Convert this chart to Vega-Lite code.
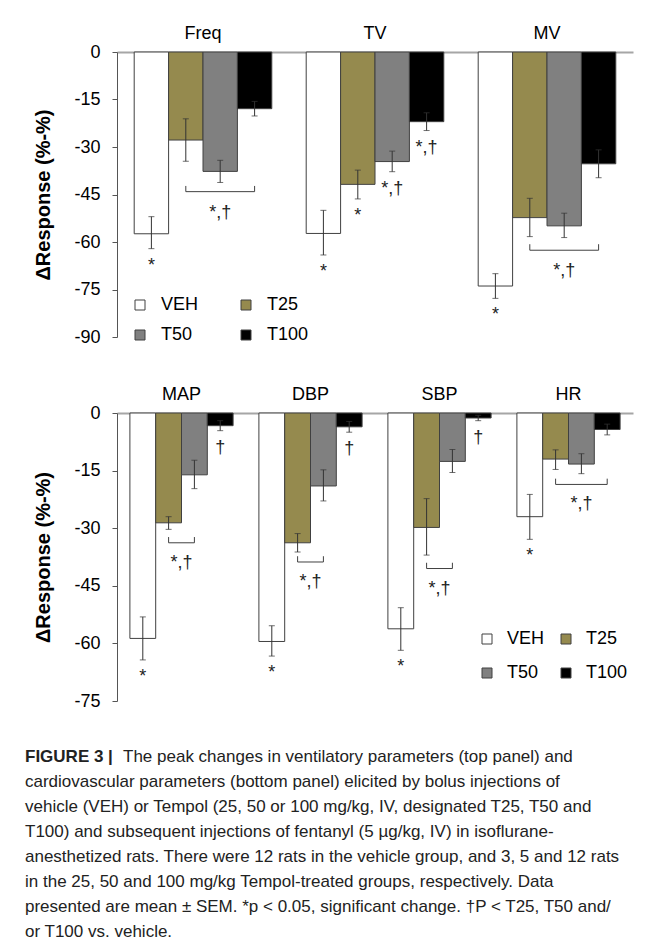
{
  "$schema": "https://vega.github.io/schema/vega-lite/v6.json",
  "background": "white",
  "padding": {"left": 25, "top": 24, "right": 5, "bottom": 5},
  "config": {
    "font": "Liberation Sans",
    "view": {"stroke": null},
    "axis": {"labelFont": "Liberation Sans", "titleFont": "Liberation Sans"},
    "legend": {"labelFont": "Liberation Sans"},
    "text": {"font": "Liberation Sans"}
  },
  "datasets": {
    "vent": [
      {"param": "Freq", "grp": "VEH", "v": -57.4, "lo": -62.1, "hi": -52.0, "sig": "*"},
      {"param": "Freq", "grp": "T25", "v": -27.8, "lo": -34.5, "hi": -21.1, "sig": ""},
      {"param": "Freq", "grp": "T50", "v": -37.7, "lo": -41.2, "hi": -34.2, "sig": ""},
      {"param": "Freq", "grp": "T100", "v": -17.9, "lo": -20.2, "hi": -15.6, "sig": ""},
      {"param": "TV", "grp": "VEH", "v": -57.3, "lo": -64.1, "hi": -50.0, "sig": "*"},
      {"param": "TV", "grp": "T25", "v": -41.8, "lo": -46.4, "hi": -37.3, "sig": "*"},
      {"param": "TV", "grp": "T50", "v": -34.6, "lo": -37.8, "hi": -31.3, "sig": "*,†"},
      {"param": "TV", "grp": "T100", "v": -22.0, "lo": -24.8, "hi": -19.2, "sig": "*,†"},
      {"param": "MV", "grp": "VEH", "v": -73.9, "lo": -77.8, "hi": -70.0, "sig": "*"},
      {"param": "MV", "grp": "T25", "v": -52.3, "lo": -58.3, "hi": -46.2, "sig": ""},
      {"param": "MV", "grp": "T50", "v": -54.9, "lo": -58.6, "hi": -50.9, "sig": ""},
      {"param": "MV", "grp": "T100", "v": -35.3, "lo": -39.7, "hi": -30.9, "sig": ""}
    ],
    "cardio": [
      {"param": "MAP", "grp": "VEH", "v": -58.7, "lo": -64.3, "hi": -53.1, "sig": "*"},
      {"param": "MAP", "grp": "T25", "v": -28.6, "lo": -30.3, "hi": -27.0, "sig": ""},
      {"param": "MAP", "grp": "T50", "v": -16.1, "lo": -19.7, "hi": -12.3, "sig": ""},
      {"param": "MAP", "grp": "T100", "v": -3.3, "lo": -4.6, "hi": -2.0, "sig": "†"},
      {"param": "DBP", "grp": "VEH", "v": -59.5, "lo": -63.3, "hi": -55.4, "sig": "*"},
      {"param": "DBP", "grp": "T25", "v": -33.8, "lo": -36.2, "hi": -31.4, "sig": ""},
      {"param": "DBP", "grp": "T50", "v": -19.0, "lo": -22.9, "hi": -14.8, "sig": ""},
      {"param": "DBP", "grp": "T100", "v": -3.6, "lo": -5.0, "hi": -2.2, "sig": "†"},
      {"param": "SBP", "grp": "VEH", "v": -56.2, "lo": -61.8, "hi": -50.7, "sig": "*"},
      {"param": "SBP", "grp": "T25", "v": -29.8, "lo": -37.0, "hi": -22.3, "sig": ""},
      {"param": "SBP", "grp": "T50", "v": -12.6, "lo": -15.5, "hi": -9.5, "sig": ""},
      {"param": "SBP", "grp": "T100", "v": -1.3, "lo": -2.0, "hi": -0.6, "sig": "†"},
      {"param": "HR", "grp": "VEH", "v": -27.0, "lo": -32.9, "hi": -21.2, "sig": "*"},
      {"param": "HR", "grp": "T25", "v": -12.0, "lo": -14.7, "hi": -9.6, "sig": ""},
      {"param": "HR", "grp": "T50", "v": -13.3, "lo": -15.8, "hi": -10.6, "sig": ""},
      {"param": "HR", "grp": "T100", "v": -4.3, "lo": -5.7, "hi": -2.9, "sig": ""}
    ],
    "ventBr": [
      {"param": "Freq", "grp": "T25", "ord": 1, "y": -42.3},
      {"param": "Freq", "grp": "T25", "ord": 2, "y": -44.1},
      {"param": "Freq", "grp": "T100", "ord": 3, "y": -44.1},
      {"param": "Freq", "grp": "T100", "ord": 4, "y": -42.3},
      {"param": "MV", "grp": "T25", "ord": 1, "y": -60.7},
      {"param": "MV", "grp": "T25", "ord": 2, "y": -62.6},
      {"param": "MV", "grp": "T100", "ord": 3, "y": -62.6},
      {"param": "MV", "grp": "T100", "ord": 4, "y": -60.7}
    ],
    "ventBrLab": [
      {"param": "Freq", "grp": "T50", "y": -44.1, "label": "*,†"},
      {"param": "MV", "grp": "T50", "y": -62.6, "label": "*,†"}
    ],
    "cardioBr": [
      {"param": "MAP", "grp": "T25", "ord": 1, "y": -32.3},
      {"param": "MAP", "grp": "T25", "ord": 2, "y": -33.8},
      {"param": "MAP", "grp": "T50", "ord": 3, "y": -33.8},
      {"param": "MAP", "grp": "T50", "ord": 4, "y": -32.3},
      {"param": "DBP", "grp": "T25", "ord": 1, "y": -37.3},
      {"param": "DBP", "grp": "T25", "ord": 2, "y": -38.8},
      {"param": "DBP", "grp": "T50", "ord": 3, "y": -38.8},
      {"param": "DBP", "grp": "T50", "ord": 4, "y": -37.3},
      {"param": "SBP", "grp": "T25", "ord": 1, "y": -39.0},
      {"param": "SBP", "grp": "T25", "ord": 2, "y": -40.5},
      {"param": "SBP", "grp": "T50", "ord": 3, "y": -40.5},
      {"param": "SBP", "grp": "T50", "ord": 4, "y": -39.0},
      {"param": "HR", "grp": "T25", "ord": 1, "y": -17.1},
      {"param": "HR", "grp": "T25", "ord": 2, "y": -18.6},
      {"param": "HR", "grp": "T100", "ord": 3, "y": -18.6},
      {"param": "HR", "grp": "T100", "ord": 4, "y": -17.1}
    ],
    "cardioBrLabMid": [
      {"param": "MAP", "grp": "T25", "y": -33.8, "label": "*,†"},
      {"param": "DBP", "grp": "T25", "y": -38.8, "label": "*,†"},
      {"param": "SBP", "grp": "T25", "y": -40.5, "label": "*,†"}
    ],
    "cardioBrLabCtr": [
      {"param": "HR", "grp": "T50", "y": -18.6, "label": "*,†"}
    ],
    "caption": [
      {"line": 1, "part": "head", "text": "FIGURE 3 |"},
      {"line": 1, "part": "lead", "text": "The peak changes in ventilatory parameters (top panel) and"},
      {"line": 2, "part": "body", "text": "cardiovascular parameters (bottom panel) elicited by bolus injections of"},
      {"line": 3, "part": "body", "text": "vehicle (VEH) or Tempol (25, 50 or 100 mg/kg, IV, designated T25, T50 and"},
      {"line": 4, "part": "body", "text": "T100) and subsequent injections of fentanyl (5 µg/kg, IV) in isoflurane-"},
      {"line": 5, "part": "body", "text": "anesthetized rats. There were 12 rats in the vehicle group, and 3, 5 and 12 rats"},
      {"line": 6, "part": "body", "text": "in the 25, 50 and 100 mg/kg Tempol-treated groups, respectively. Data"},
      {"line": 7, "part": "body", "text": "presented are mean ± SEM. *p < 0.05, significant change. †P < T25, T50 and/"},
      {"line": 8, "part": "body", "text": "or T100 vs. vehicle."}
    ]
  },
  "resolve": {"scale": {"x": "independent", "y": "independent", "xOffset": "independent"}, "legend": {"fill": "independent"}},
  "spacing": 38,
  "vconcat": [
    {
      "spacing": 39,
      "resolve": {"scale": {"x": "independent", "y": "independent", "xOffset": "independent"}, "legend": {"fill": "independent"}},
      "vconcat": [
        {
          "width": 516,
          "height": 285,
          "data": {"name": "vent"},
          "encoding": {
            "x": {"field": "param", "type": "nominal", "sort": ["Freq", "TV", "MV"],
                  "scale": {"domain": ["Freq", "TV", "MV"], "paddingInner": 0.2, "paddingOuter": 0.1},
                  "axis": {"orient": "top", "title": null, "ticks": false, "labelPadding": 10, "labelFontSize": 18, "labelColor": "black", "labelAngle": 0, "domainColor": "#a6a6a6", "domainWidth": 2}},
            "xOffset": {"field": "grp", "type": "nominal", "sort": ["VEH", "T25", "T50", "T100"],
                        "scale": {"domain": ["VEH", "T25", "T50", "T100"], "paddingInner": 0, "paddingOuter": 0}}
          },
          "layer": [
            {
              "mark": {"type": "bar", "stroke": "#404040", "strokeWidth": 1},
              "encoding": {
                "y": {"field": "v", "type": "quantitative", "title": "ΔResponse (%-%)",
                      "scale": {"domain": [-90, 0], "nice": false},
                      "axis": {"values": [-90, -75, -60, -45, -30, -15, 0], "labelExpr": "'' + datum.value", "labelFontSize": 18, "labelColor": "black", "labelPadding": 12, "tickSize": 5, "tickColor": "#555", "domainColor": "#555", "grid": false, "titleFontSize": 20, "titleFontWeight": "bold", "titleColor": "black", "titlePadding": 20}},
                "fill": {"field": "grp", "type": "nominal",
                         "scale": {"domain": ["VEH", "T25", "T50", "T100"], "range": ["#ffffff", "#958a4e", "#808080", "#000000"]},
                         "legend": {"orient": "none", "direction": "horizontal", "legendX": 14, "legendY": 244, "columns": 2, "columnPadding": 38, "rowPadding": 12, "title": null, "symbolType": "square", "symbolSize": 100, "symbolStrokeColor": "#404040", "symbolStrokeWidth": 1, "labelFontSize": 18, "labelColor": "black", "labelOffset": 12, "padding": 0}}
              }
            },
            {
              "mark": {"type": "rule", "color": "#333", "strokeWidth": 1},
              "encoding": {
                "y": {"field": "lo", "type": "quantitative", "title": "ΔResponse (%-%)", "scale": {"domain": [-90, 0], "nice": false}},
                "y2": {"field": "hi"}
              }
            },
            {
              "mark": {"type": "tick", "orient": "horizontal", "size": 6, "thickness": 1, "color": "#333"},
              "encoding": {"y": {"field": "lo", "type": "quantitative", "title": "ΔResponse (%-%)", "scale": {"domain": [-90, 0], "nice": false}}}
            },
            {
              "mark": {"type": "tick", "orient": "horizontal", "size": 6, "thickness": 1, "color": "#333"},
              "encoding": {"y": {"field": "hi", "type": "quantitative", "title": "ΔResponse (%-%)", "scale": {"domain": [-90, 0], "nice": false}}}
            },
            {
              "transform": [{"filter": "datum.sig != ''"}],
              "mark": {"type": "text", "baseline": "top", "dy": 8, "fontSize": 18, "color": "#222"},
              "encoding": {
                "y": {"field": "lo", "type": "quantitative", "title": "ΔResponse (%-%)", "scale": {"domain": [-90, 0], "nice": false}},
                "text": {"field": "sig"}
              }
            },
            {
              "data": {"name": "ventBr"},
              "mark": {"type": "line", "color": "#404040", "strokeWidth": 1},
              "encoding": {
                "y": {"field": "y", "type": "quantitative", "title": "ΔResponse (%-%)", "scale": {"domain": [-90, 0], "nice": false}},
                "detail": {"field": "param"},
                "order": {"field": "ord"}
              }
            },
            {
              "data": {"name": "ventBrLab"},
              "mark": {"type": "text", "baseline": "top", "dy": 12, "fontSize": 18, "color": "#222"},
              "encoding": {
                "y": {"field": "y", "type": "quantitative", "title": "ΔResponse (%-%)", "scale": {"domain": [-90, 0], "nice": false}},
                "text": {"field": "label"}
              }
            }
          ]
        },
        {
          "width": 516,
          "height": 288,
          "data": {"name": "cardio"},
          "encoding": {
            "x": {"field": "param", "type": "nominal", "sort": ["MAP", "DBP", "SBP", "HR"],
                  "scale": {"domain": ["MAP", "DBP", "SBP", "HR"], "paddingInner": 0.2, "paddingOuter": 0.1},
                  "axis": {"orient": "top", "title": null, "ticks": false, "labelPadding": 10, "labelFontSize": 18, "labelColor": "black", "labelAngle": 0, "domainColor": "#a6a6a6", "domainWidth": 2}},
            "xOffset": {"field": "grp", "type": "nominal", "sort": ["VEH", "T25", "T50", "T100"],
                        "scale": {"domain": ["VEH", "T25", "T50", "T100"], "paddingInner": 0, "paddingOuter": 0}}
          },
          "layer": [
            {
              "mark": {"type": "bar", "stroke": "#404040", "strokeWidth": 1},
              "encoding": {
                "y": {"field": "v", "type": "quantitative", "title": "ΔResponse (%-%)",
                      "scale": {"domain": [-75, 0], "nice": false},
                      "axis": {"values": [-75, -60, -45, -30, -15, 0], "labelExpr": "'' + datum.value", "labelFontSize": 18, "labelColor": "black", "labelPadding": 12, "tickSize": 5, "tickColor": "#555", "domainColor": "#555", "grid": false, "titleFontSize": 20, "titleFontWeight": "bold", "titleColor": "black", "titlePadding": 20}},
                "fill": {"field": "grp", "type": "nominal",
                         "scale": {"domain": ["VEH", "T25", "T50", "T100"], "range": ["#ffffff", "#958a4e", "#808080", "#000000"]},
                         "legend": {"orient": "none", "direction": "horizontal", "legendX": 361, "legendY": 217, "columns": 2, "columnPadding": 12, "rowPadding": 16, "title": null, "symbolType": "square", "symbolSize": 100, "symbolStrokeColor": "#404040", "symbolStrokeWidth": 1, "labelFontSize": 18, "labelColor": "black", "labelOffset": 11, "padding": 0}}
              }
            },
            {
              "mark": {"type": "rule", "color": "#333", "strokeWidth": 1},
              "encoding": {
                "y": {"field": "lo", "type": "quantitative", "title": "ΔResponse (%-%)", "scale": {"domain": [-75, 0], "nice": false}},
                "y2": {"field": "hi"}
              }
            },
            {
              "mark": {"type": "tick", "orient": "horizontal", "size": 6, "thickness": 1, "color": "#333"},
              "encoding": {"y": {"field": "lo", "type": "quantitative", "title": "ΔResponse (%-%)", "scale": {"domain": [-75, 0], "nice": false}}}
            },
            {
              "mark": {"type": "tick", "orient": "horizontal", "size": 6, "thickness": 1, "color": "#333"},
              "encoding": {"y": {"field": "hi", "type": "quantitative", "title": "ΔResponse (%-%)", "scale": {"domain": [-75, 0], "nice": false}}}
            },
            {
              "transform": [{"filter": "datum.sig != ''"}],
              "mark": {"type": "text", "baseline": "top", "dy": 8, "fontSize": 18, "color": "#222"},
              "encoding": {
                "y": {"field": "lo", "type": "quantitative", "title": "ΔResponse (%-%)", "scale": {"domain": [-75, 0], "nice": false}},
                "text": {"field": "sig"}
              }
            },
            {
              "data": {"name": "cardioBr"},
              "mark": {"type": "line", "color": "#404040", "strokeWidth": 1},
              "encoding": {
                "y": {"field": "y", "type": "quantitative", "title": "ΔResponse (%-%)", "scale": {"domain": [-75, 0], "nice": false}},
                "detail": {"field": "param"},
                "order": {"field": "ord"}
              }
            },
            {
              "data": {"name": "cardioBrLabMid"},
              "mark": {"type": "text", "baseline": "top", "dy": 11, "dx": 13, "fontSize": 18, "color": "#222"},
              "encoding": {
                "y": {"field": "y", "type": "quantitative", "title": "ΔResponse (%-%)", "scale": {"domain": [-75, 0], "nice": false}},
                "text": {"field": "label"}
              }
            },
            {
              "data": {"name": "cardioBrLabCtr"},
              "mark": {"type": "text", "baseline": "top", "dy": 11, "fontSize": 18, "color": "#222"},
              "encoding": {
                "y": {"field": "y", "type": "quantitative", "title": "ΔResponse (%-%)", "scale": {"domain": [-75, 0], "nice": false}},
                "text": {"field": "label"}
              }
            }
          ]
        }
      ]
    },
    {
      "width": 516,
      "height": 175,
      "data": {"name": "caption"},
      "encoding": {
        "y": {"field": "line", "type": "quantitative", "scale": {"domain": [1, 8], "reverse": true, "nice": false, "zero": false}, "axis": null},
        "text": {"field": "text"}
      },
      "layer": [
        {
          "transform": [{"filter": "datum.part == 'head'"}],
          "mark": {"type": "text", "align": "left", "baseline": "middle", "fontSize": 17, "fontWeight": "bold", "font": "Liberation Sans", "color": "#222"},
          "encoding": {"x": {"value": -92}}
        },
        {
          "transform": [{"filter": "datum.part == 'lead'"}],
          "mark": {"type": "text", "align": "left", "baseline": "middle", "dx": 98, "fontSize": 17, "font": "Liberation Sans", "color": "#222"},
          "encoding": {"x": {"value": -92}}
        },
        {
          "transform": [{"filter": "datum.part == 'body'"}],
          "mark": {"type": "text", "align": "left", "baseline": "middle", "fontSize": 17, "font": "Liberation Sans", "color": "#222"},
          "encoding": {"x": {"value": -92}}
        }
      ]
    }
  ]
}
